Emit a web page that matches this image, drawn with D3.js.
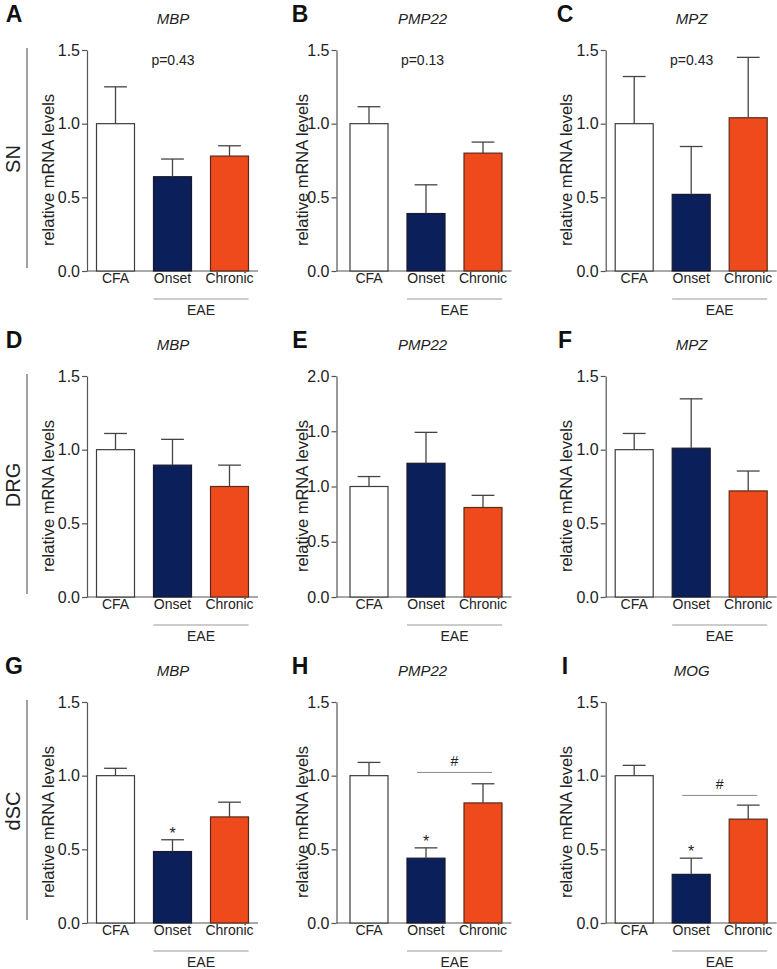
<!DOCTYPE html>
<html>
<head>
<meta charset="utf-8">
<script src="https://cdn.jsdelivr.net/npm/d3@7"></script>
<style>
  html, body { margin: 0; padding: 0; background: #fff; }
  svg { display: block; font-family: "Liberation Sans", Arial, sans-serif; }
</style>
</head>
<body>
<script>
// ---------------- data ----------------
const panelLetters = ["A","B","C","D","E","F","G","H","I"];
const geneNames = ["MBP","PMP22","MPZ","MBP","PMP22","MPZ","MBP","PMP22","MOG"];
const rowLabels = ["SN","DRG","dSC"];
const groups = ["CFA","Onset","Chronic"];
const eaeGroups = ["Onset","Chronic"];
const eaeLabel = "EAE";
const yAxisTitle = "relative mRNA levels";

const meanValues = [
  [1.00, 0.64, 0.78],
  [1.00, 0.39, 0.80],
  [1.00, 0.52, 1.04],
  [1.00, 0.895, 0.75],
  [1.00, 1.21, 0.81],
  [1.00, 1.01, 0.72],
  [1.00, 0.485, 0.72],
  [1.00, 0.44, 0.815],
  [1.00, 0.33, 0.705]
];
const semValues = [
  [0.25, 0.12, 0.07],
  [0.115, 0.195, 0.075],
  [0.32, 0.325, 0.41],
  [0.11, 0.175, 0.145],
  [0.09, 0.28, 0.11],
  [0.11, 0.335, 0.135],
  [0.05, 0.08, 0.10],
  [0.09, 0.07, 0.13],
  [0.07, 0.11, 0.095]
];
const yMaxValues = [1.5, 1.5, 1.5, 1.5, 2.0, 1.5, 1.5, 1.5, 1.5];
const defaultTickValues = [0, 0.5, 1.0, 1.5];
const defaultTickLabels = ["0.0", "0.5", "1.0", "1.5"];
const panelETickValues = [0, 0.5, 1.0, 1.5, 2.0];
const panelETickLabels = ["0.0", "0.5", "1.0", "1.0", "2.0"];
const pValueLabels = ["p=0.43", "p=0.13", "p=0.43", null, null, null, null, null, null];
const starGroups = [null, null, null, null, null, null, "Onset", "Onset", "Onset"];
const starLabel = "*";
const hashLevels = [null, null, null, null, null, null, null, 1.022, 0.866];
const hashLabel = "#";

// ---------------- styles / layout ----------------
const barColors = { CFA: "#ffffff", Onset: "#0b1f5b", Chronic: "#ee4a1c" };
const barStrokes = { CFA: "#3c3c3c", Onset: "#1a1a2a", Chronic: "#5a2a1a" };
const colAxisX = [87, 336.5, 605.7];
const colShift = [0, 4, 0];
const colYTitleOffset = [-33, -28.5, -33.5];
const colLetterX = [14, 300, 565];
const rowBase = [271, 597, 923];
const plotH = 221;
const plotW = 171;

const svg = d3.select("body").append("svg")
  .attr("width", 777).attr("height", 969);

// row labels
rowLabels.forEach((lab, r) => {
  const base = rowBase[r];
  svg.append("line")
    .attr("x1", 27).attr("x2", 27)
    .attr("y1", base - 223).attr("y2", base - 3)
    .attr("stroke", "#555").attr("stroke-width", 1.1);
  svg.append("text")
    .attr("transform", `translate(20,${base - 112}) rotate(-90)`)
    .attr("text-anchor", "middle")
    .attr("font-size", 20)
    .attr("fill", "#222")
    .text(lab);
});

panelLetters.forEach((letter, i) => {
  const r = Math.floor(i / 3), c = i % 3;
  const ax = colAxisX[c], base = rowBase[r];
  const g = svg.append("g");

  const y = d3.scaleLinear().domain([0, yMaxValues[i]]).range([base, base - plotH]);
  const x = d3.scaleBand().domain(groups)
    .range([ax + colShift[c], ax + plotW + colShift[c]])
    .paddingInner(1 / 3).paddingOuter(1 / 6);

  const tv = letter === "E" ? panelETickValues : defaultTickValues;
  const tl = letter === "E" ? panelETickLabels : defaultTickLabels;

  // y axis
  const yAxis = g.append("g")
    .attr("transform", `translate(${ax},0)`)
    .call(d3.axisLeft(y).tickValues(tv).tickSize(5).tickSizeOuter(0).tickPadding(2)
      .tickFormat((d, k) => tl[k]));
  yAxis.select(".domain").attr("stroke", "#555").attr("stroke-width", 1.2);
  yAxis.selectAll(".tick line").attr("stroke", "#555").attr("stroke-width", 1.2);
  yAxis.selectAll(".tick text").attr("font-size", 16).attr("fill", "#222")
    .attr("font-family", "Liberation Sans, Arial, sans-serif");

  // x axis baseline
  g.append("line")
    .attr("x1", ax).attr("x2", ax + plotW + colShift[c])
    .attr("y1", base).attr("y2", base)
    .attr("stroke", "#555").attr("stroke-width", 1.2);

  // x category labels
  const xAxis = g.append("g")
    .attr("transform", `translate(0,${base})`)
    .call(d3.axisBottom(x).tickSize(0).tickPadding(2));
  xAxis.select(".domain").remove();
  xAxis.selectAll(".tick text").attr("font-size", 14).attr("fill", "#222")
    .attr("font-family", "Liberation Sans, Arial, sans-serif");

  // EAE bracket
  const ex1 = x(eaeGroups[0]), ex2 = x(eaeGroups[1]) + x.bandwidth();
  g.append("line")
    .attr("x1", ex1).attr("x2", ex2)
    .attr("y1", base + 28).attr("y2", base + 28)
    .attr("stroke", "#999").attr("stroke-width", 1);
  g.append("text")
    .attr("x", (ex1 + ex2) / 2).attr("y", base + 44)
    .attr("text-anchor", "middle").attr("font-size", 14).attr("fill", "#222")
    .text(eaeLabel);

  // bars
  const data = groups.map((grp, k) => ({ grp, mean: meanValues[i][k], sem: semValues[i][k] }));
  g.selectAll("rect.bar").data(data).enter().append("rect")
    .attr("class", "bar")
    .attr("x", d => x(d.grp))
    .attr("width", x.bandwidth())
    .attr("y", d => y(d.mean))
    .attr("height", d => y(0) - y(d.mean))
    .attr("fill", d => barColors[d.grp])
    .attr("stroke", d => barStrokes[d.grp])
    .attr("stroke-width", 1.2);

  // error bars (upper only)
  const capW = x.bandwidth() * 0.6;
  data.forEach(d => {
    const cx = x(d.grp) + x.bandwidth() / 2;
    g.append("line")
      .attr("x1", cx).attr("x2", cx)
      .attr("y1", y(d.mean)).attr("y2", y(d.mean + d.sem))
      .attr("stroke", "#444").attr("stroke-width", 1.3);
    g.append("line")
      .attr("x1", cx - capW / 2).attr("x2", cx + capW / 2)
      .attr("y1", y(d.mean + d.sem)).attr("y2", y(d.mean + d.sem))
      .attr("stroke", "#444").attr("stroke-width", 1.3);
  });

  // y title
  g.append("text")
    .attr("transform", `translate(${ax + colYTitleOffset[c]},${base - 101}) rotate(-90)`)
    .attr("text-anchor", "middle").attr("font-size", 16.5).attr("fill", "#222")
    .text(yAxisTitle);

  // gene title
  g.append("text")
    .attr("x", ax + 86).attr("y", base - 247)
    .attr("text-anchor", "middle").attr("font-size", 15)
    .attr("font-style", "italic").attr("fill", "#222")
    .text(geneNames[i]);

  // panel letter
  g.append("text")
    .attr("x", colLetterX[c]).attr("y", base - 249)
    .attr("text-anchor", "middle").attr("font-size", 23)
    .attr("font-weight", "bold").attr("fill", "#111")
    .text(letter);

  // p value
  if (pValueLabels[i]) {
    g.append("text")
      .attr("x", ax + 86).attr("y", base - 206)
      .attr("text-anchor", "middle").attr("font-size", 14).attr("fill", "#222")
      .text(pValueLabels[i]);
  }

  // star
  if (starGroups[i]) {
    const k = groups.indexOf(starGroups[i]);
    const cx = x(starGroups[i]) + x.bandwidth() / 2;
    g.append("text")
      .attr("x", cx).attr("y", y(meanValues[i][k] + semValues[i][k]) - 1)
      .attr("text-anchor", "middle").attr("font-size", 16).attr("fill", "#222")
      .text(starLabel);
  }

  // hash bracket
  if (hashLevels[i] != null) {
    const hx1 = x("Onset") + x.bandwidth() / 2 - 9;
    const hx2 = x("Chronic") + x.bandwidth() / 2 + 9;
    const hy = y(hashLevels[i]);
    g.append("line")
      .attr("x1", hx1).attr("x2", hx2).attr("y1", hy).attr("y2", hy)
      .attr("stroke", "#888").attr("stroke-width", 1);
    g.append("text")
      .attr("x", (hx1 + hx2) / 2).attr("y", hy - 6)
      .attr("text-anchor", "middle").attr("font-size", 14).attr("fill", "#222")
      .text(hashLabel);
  }
});
</script>
</body>
</html>
